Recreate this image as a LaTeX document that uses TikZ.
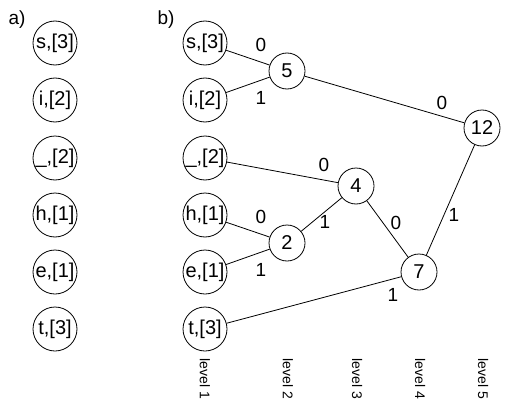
\documentclass[tikz,border=0pt]{standalone}
\usepackage{fontspec}
\setmainfont{Liberation Sans}
\begin{document}
\begin{tikzpicture}[x=1pt,y=-1pt,
  leaf/.style={draw,circle,minimum size=44pt,inner sep=0pt,line width=0.8pt,font=\fontsize{20}{22}\selectfont},
  inner/.style={draw,circle,minimum size=36pt,inner sep=0pt,line width=0.8pt,font=\fontsize{20}{22}\selectfont},
  lbl/.style={inner sep=0pt,font=\fontsize{19}{21}\selectfont},
  lev/.style={inner sep=0pt,rotate=-90,font=\fontsize{14}{16}\selectfont},
  edge/.style={line width=0.8pt}]
\useasboundingbox (0,0) rectangle (511,420);
\node[lbl] (la) at (17,20) {a)};
\node[lbl] (lb) at (166,20) {b)};
% a) column
\node[leaf] (as) at (55,43) {s,[3]};
\node[leaf] (ai) at (55,100) {i,[2]};
\node[leaf] (au) at (55,158) {\_,[2]};
\node[leaf] (ah) at (55,215) {h,[1]};
\node[leaf] (ae) at (55,272) {e,[1]};
\node[leaf] (at) at (55,329) {t,[3]};
% b) column
\node[leaf] (bs) at (205,43) {s,[3]};
\node[leaf] (bi) at (205,100) {i,[2]};
\node[leaf] (bu) at (205,158) {\_,[2]};
\node[leaf] (bh) at (205,215) {h,[1]};
\node[leaf] (be) at (205,272) {e,[1]};
\node[leaf] (bt) at (205,329) {t,[3]};
% inner nodes
\node[inner] (n5) at (287,71) {5};
\node[inner] (n12) at (482,128) {12};
\node[inner] (n4) at (356,186) {4};
\node[inner] (n2) at (287,243) {2};
\node[inner] (n7) at (419,272) {7};
% edges
\draw[edge] (bs) -- (n5);
\draw[edge] (bi) -- (n5);
\draw[edge] (n5) -- (n12);
\draw[edge] (bu) -- (n4);
\draw[edge] (bh) -- (n2);
\draw[edge] (be) -- (n2);
\draw[edge] (n2) -- (n4);
\draw[edge] (n4) -- (n7);
\draw[edge] (n12) -- (n7);
\draw[edge] (bt) -- (n7);
% edge labels
\node[lbl] (e1) at (261,45) {0};
\node[lbl] (e2) at (261,98) {1};
\node[lbl] (e3) at (442,103) {0};
\node[lbl] (e4) at (324,165) {0};
\node[lbl] (e5) at (325,222) {1};
\node[lbl] (e6) at (261,217) {0};
\node[lbl] (e7) at (261,270) {1};
\node[lbl] (e8) at (396,223) {0};
\node[lbl] (e9) at (454,215) {1};
\node[lbl] (e10) at (393,295) {1};
% level labels
\node[lev] (l1) at (205,379) {level 1};
\node[lev] (l2) at (288,379) {level 2};
\node[lev] (l3) at (357,379) {level 3};
\node[lev] (l4) at (420,379) {level 4};
\node[lev] (l5) at (483,379) {level 5};
\end{tikzpicture}
\end{document}
